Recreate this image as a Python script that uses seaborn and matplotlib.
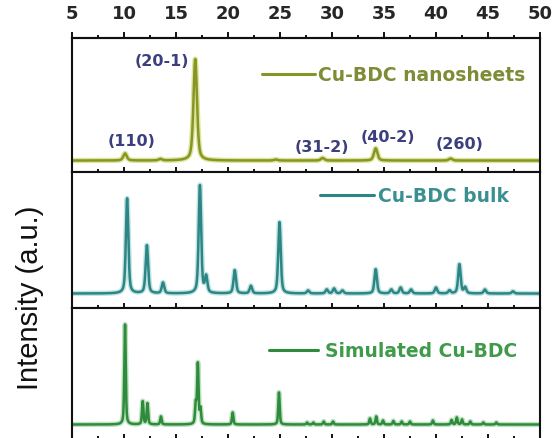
import numpy as np
import pandas as pd
import matplotlib
matplotlib.use("Agg")
import matplotlib.pyplot as plt
import matplotlib.patheffects as pe
from matplotlib.ticker import MultipleLocator
import seaborn as sns

# ---- data -------------------------------------------------------------
two_theta_major = [5, 10, 15, 20, 25, 30, 35, 40, 45, 50]
tick_labels = ["5", "10", "15", "20", "25", "30", "35", "40", "45", "50"]

# Cu-BDC nanosheets: reflection positions (deg 2θ) and relative heights
nano_pos = [10.1, 13.5, 16.85, 24.6, 29.1, 34.2, 41.4]
nano_int = [7.0, 1.5, 100.0, 1.0, 2.5, 12.0, 2.0]

# Cu-BDC bulk
bulk_pos = [10.3, 12.2, 13.75, 17.3, 17.9, 20.65, 22.2, 24.95, 27.7, 29.5,
            30.2, 31.0, 34.2, 35.7, 36.6, 37.6, 40.0, 41.3, 42.25, 42.8,
            44.7, 47.4]
bulk_int = [88.0, 44.5, 10.0, 100.0, 15.0, 21.5, 7.0, 66.0, 2.8, 3.7,
            4.6, 2.8, 22.5, 3.7, 5.5, 3.7, 5.5, 2.8, 27.0, 5.5,
            3.7, 2.0]

# Simulated Cu-BDC
sim_pos = [10.1, 11.8, 12.25, 13.55, 16.9, 17.1, 17.35, 20.45, 24.9, 27.6,
           28.2, 29.2, 30.1, 33.65, 34.25, 34.9, 35.9, 36.7, 37.5, 39.7,
           41.5, 42.0, 42.5, 43.3, 44.55, 45.8]
sim_int = [100.0, 23.0, 21.0, 8.0, 20.0, 60.0, 15.0, 12.0, 32.0, 2.0,
           2.0, 3.0, 3.0, 6.0, 8.0, 4.0, 3.5, 3.0, 3.0, 4.0,
           4.5, 7.0, 5.0, 3.0, 2.0, 2.0]

series_names = ["Cu-BDC nanosheets", "Cu-BDC bulk", "Simulated Cu-BDC"]

hkl_labels = ["(110)", "(20-1)", "(31-2)", "(40-2)", "(260)"]


def pattern(theta, pos, height, fwhm, eta=0.5):
    """Pseudo-Voigt profile built from a list of reflections."""
    y = np.zeros_like(theta)
    for p, h in zip(pos, height):
        d = (theta - p) / (fwhm / 2.0)
        y += h * (eta / (1.0 + d ** 2) + (1 - eta) * np.exp(-np.log(2) * d ** 2))
    return y


theta = np.round(np.arange(5.0, 50.0001, 0.01), 3)

# ---- style ------------------------------------------------------------
sns.set_style("ticks")
plt.rcParams["font.family"] = ["DejaVu Sans"]
plt.rcParams["axes.linewidth"] = 1.5

fig = plt.figure(figsize=(5.6, 4.39), dpi=100)

left, width = 72 / 560, 468 / 560
panels = [
    dict(name=series_names[0], pos=nano_pos, inten=nano_int, fwhm=0.40,
         color="#869626", halo="#dfe49a", text="#7f8b35",
         rect=[left, 0.6052, width, 0.3052], ylim=(-11.6, 120.4),
         leg=(0.405, 0.728), hlen=2.85, hpad=0.18),
    dict(name=series_names[1], pos=bulk_pos, inten=bulk_int, fwhm=0.28,
         color="#2d8585", halo="#bfe4e2", text="#3a9090",
         rect=[left, 0.2961, width, 0.3091], ylim=(-13.4, 112.2),
         leg=(0.529, 0.828), hlen=2.9, hpad=0.2),
    dict(name=series_names[2], pos=sim_pos, inten=sim_int, fwhm=0.16,
         color="#2e8b3b", halo="#c0e2c2", text="#3f9a4a",
         rect=[left, -0.0023, width, 0.2984], ylim=(-14.5, 116.5),
         leg=(0.421, 0.674), hlen=2.6, hpad=0.38),
]

axes = []
for p in panels:
    ax = fig.add_axes(p["rect"])
    df = pd.DataFrame({"two_theta": theta,
                       "intensity": pattern(theta, p["pos"], p["inten"], p["fwhm"])})
    sns.lineplot(data=df, x="two_theta", y="intensity", ax=ax, color=p["color"],
                 linewidth=1.8, label=p["name"], estimator=None, sort=False)
    for ln in ax.get_lines():
        ln.set_path_effects([pe.Stroke(linewidth=3.8, foreground=p["halo"]), pe.Normal()])
    ax.set_xlim(5, 50)
    ax.set_ylim(*p["ylim"])
    ax.set_xlabel("")
    ax.set_ylabel("")
    ax.set_yticks([])
    ax.set_xticks(two_theta_major)
    ax.xaxis.set_minor_locator(MultipleLocator(2.5))
    ax.tick_params(axis="x", which="both", direction="in", bottom=True, top=False,
                   labelbottom=False, width=1.4, color="#111111")
    ax.tick_params(axis="x", which="major", length=3.8)
    ax.tick_params(axis="x", which="minor", length=2.0)
    for s in ax.spines.values():
        s.set_visible(True)
        s.set_linewidth(1.5)
        s.set_color("#111111")
    leg = ax.legend(loc="center left", bbox_to_anchor=p["leg"], frameon=False,
                    handlelength=p["hlen"], handletextpad=p["hpad"], borderpad=0,
                    borderaxespad=0, labelcolor=p["text"],
                    prop={"size": 13.5, "weight": "bold"})
    for h in leg.get_lines():
        h.set_linewidth(2.2)
        h.set_path_effects([])
    axes.append(ax)

# 2θ scale drawn along the top of the upper panel
top = axes[0].secondary_xaxis("top")
top.set_xticks(two_theta_major, tick_labels)
top.xaxis.set_minor_locator(MultipleLocator(2.5))
top.tick_params(axis="x", which="both", direction="out", width=1.4, color="#111111",
                labelsize=13, pad=7.5)
top.tick_params(axis="x", which="major", length=4.5)
top.tick_params(axis="x", which="minor", length=2.2)
for lab in top.get_xticklabels():
    lab.set_fontweight("bold")
top.spines["top"].set_linewidth(1.5)

# Miller indices of the nanosheet reflections
hkl_x = [10.72, 13.61, 29.04, 35.35, 42.25]
hkl_y = [20.2, 99.0, 14.3, 24.1, 16.3]
for lab, x, y in zip(hkl_labels, hkl_x, hkl_y):
    axes[0].text(x, y, lab, ha="center", va="center", fontsize=11.5,
                 fontweight="bold", color="#3b3f7c")

fig.text(30 / 560, 1 - 298 / 439, "Intensity (a.u.)", rotation=90, ha="center",
         va="center", fontsize=21, family=["Liberation Sans", "DejaVu Sans"],
         color="#111111")

fig.savefig("out.png", dpi=100)
